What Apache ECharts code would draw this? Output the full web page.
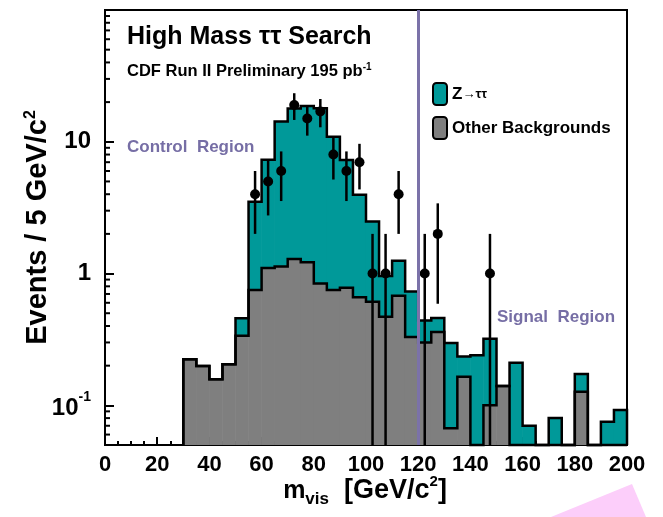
<!DOCTYPE html>
<html><head><meta charset="utf-8">
<script src="https://cdn.jsdelivr.net/npm/echarts@6/dist/echarts.min.js"></script>
<style>html,body{margin:0;padding:0;background:#fff}#c{width:663px;height:517px}</style>
</head><body><div id="c"></div>
<script>
// ---- data ----
const binLow = [30,35,40,45,50,55,60,65,70,75,80,85,90,95,100,105,110,115,120,125,130,135,140,145,150,155,160,165,170,175,180,185,190,195];
const binWidth = 5;
const otherBkg = [0.224,0.199,0.158,0.205,0.338,0.75,1.10,1.13,1.29,1.22,
                  0.84,0.75,0.78,0.66,0.61,0.47,0.68,0.33,0.30,0.36,
                  0.067,0.165,0,0.10,0.14,0,0,0,0,0,
                  0.127,0,0,0];
const zTauTau  = [0,0,0,0,0.12,2.75,6.2,13.1,16.6,17.5,
                  17.1,10.15,6.5,3.3,1.87,0.49,0.57,0.40,0.14,0.10,
                  0.23,0.07,0.24,0.22,0,0.21,0.07,0,0.08,0,
                  0.046,0,0.075,0.092];
const dataMass   = [57.5,62.5,67.5,72.5,77.5,82.5,87.5,92.5,97.5,102.5,107.5,112.5,122.5,127.5,147.5];
const dataCounts = [4,5,6,19,15,17,8,6,7,1,1,4,1,2,1];
const dataErr    = [2,2.24,2.45,4.36,3.87,4.12,2.83,2.45,2.65,1,1,2,1,1.41,1];
const xTickInterval = 20;
const yMin = 0.05, yMax = 100;
const yMinorTicks = [0.06,0.07,0.08,0.09,0.2,0.3,0.4,0.5,0.6,0.7,0.8,0.9,2,3,4,5,6,7,8,9,20,30,40,50,60,70,80,90];
const signalCut = 120;

const FONT = '"Liberation Sans", Arial, sans-serif';
const TEAL = '#009999', GRAY = '#7f7f7f', PURPLE = '#7b72a9';

const totals = otherBkg.map((v,i)=>v + zTauTau[i]);
const clampY = v => Math.max(v, yMin);

const grayData = binLow.map((x,i)=>[x, x+binWidth, yMin, clampY(otherBkg[i])]);
const tealData = binLow.map((x,i)=>[x, x+binWidth, clampY(otherBkg[i]), clampY(totals[i])]);

function rectRender(color){
  return function(params, api){
    const lo = api.value(2), hi = api.value(3);
    if (!(hi > lo)) return;
    const p0 = api.coord([api.value(0), hi]);
    const p1 = api.coord([api.value(1), lo]);
    return {type:'rect', shape:{x:p0[0]-0.3, y:p0[1], width:p1[0]-p0[0]+0.6, height:p1[1]-p0[1]},
            style:{fill:color}};
  };
}
function stepPoints(api, arr){
  const pts = [api.coord([binLow[0], yMin])];
  arr.forEach((v,i)=>{
    const y = clampY(v);
    pts.push(api.coord([binLow[i], y]));
    pts.push(api.coord([binLow[i]+binWidth, y]));
  });
  pts.push(api.coord([binLow[binLow.length-1]+binWidth, yMin]));
  return pts;
}

const chart = echarts.init(document.getElementById('c'), null, {renderer:'canvas'});
chart.setOption({
  animation:false,
  backgroundColor:'#fff',
  grid:{left:105, right:36, top:10, bottom:72, show:true, borderColor:'#000', borderWidth:2, backgroundColor:'transparent'},
  legend:{
    data:['Z→ττ','Other Backgrounds'], orient:'vertical', left:432, top:82, padding:0,
    itemWidth:14, itemHeight:22, itemGap:10, icon:'roundRect', selectedMode:false,
    itemStyle:{borderColor:'#000', borderWidth:2},
    textStyle:{fontFamily:FONT, fontWeight:'bold', fontSize:17, color:'#000',
      rich:{z:{fontFamily:FONT, fontWeight:'bold', fontSize:17, color:'#000'},
            a:{fontFamily:FONT, fontWeight:'bold', fontSize:13, color:'#000'}}},
    formatter: n => n === 'Z→ττ' ? '{z|Z}{a|→ττ}' : n
  },
  xAxis:{
    type:'value', min:0, max:200, interval:xTickInterval,
    axisLine:{lineStyle:{color:'#000', width:2}},
    axisTick:{inside:true, length:8, lineStyle:{color:'#000', width:2}},
    minorTick:{show:true, splitNumber:4, length:4, lineStyle:{color:'#000', width:2}},
    splitLine:{show:false},
    axisLabel:{fontFamily:FONT, fontWeight:'bold', fontSize:22, color:'#000', margin:9},
    name:'{m|m}{sub|vis}{t|  [GeV/c}{sup|2}{t|]}', nameLocation:'middle', nameGap:29, nameMoveOverlap:false,
    nameTextStyle:{fontFamily:FONT, fontWeight:'bold', color:'#000', lineHeight:34, padding:[0,0,0,-2],
      rich:{m:{fontFamily:FONT, fontWeight:'bold', fontSize:25, lineHeight:34, verticalAlign:'middle'},
            t:{fontFamily:FONT, fontWeight:'bold', fontSize:27, lineHeight:34, verticalAlign:'middle'},
            sub:{fontFamily:FONT, fontWeight:'bold', fontSize:17, lineHeight:15, verticalAlign:'bottom'},
            sup:{fontFamily:FONT, fontWeight:'bold', fontSize:15, lineHeight:15, verticalAlign:'top'}}}
  },
  yAxis:{
    type:'log', logBase:10, min:yMin, max:yMax,
    axisLine:{lineStyle:{color:'#000', width:2}},
    axisTick:{inside:true, length:9, lineStyle:{color:'#000', width:2}},
    splitLine:{show:false},
    axisLabel:{fontFamily:FONT, fontWeight:'bold', fontSize:24, color:'#000', margin:14,
      showMinLabel:true, showMaxLabel:true,
      rich:{b:{fontFamily:FONT, fontWeight:'bold', fontSize:24, lineHeight:30, verticalAlign:'bottom'},
            s:{fontFamily:FONT, fontWeight:'bold', fontSize:14, lineHeight:14, verticalAlign:'top'}},
      formatter: v => {
        const l = Math.log10(v), r = Math.round(l);
        if (Math.abs(l-r) > 1e-6 || r >= 2) return '';
        if (r < 0) return '{b|10}{s|' + r + '}';
        return String(Math.round(v));
      }},
    name:'{a|Events / 5 GeV/c}{s|2}', nameLocation:'middle', nameGap:52, nameRotate:90, nameMoveOverlap:false,
    nameTextStyle:{fontFamily:FONT, fontWeight:'bold', color:'#000', lineHeight:30,
      rich:{a:{fontFamily:FONT, fontWeight:'bold', fontSize:29, lineHeight:30, verticalAlign:'middle'},
            s:{fontFamily:FONT, fontWeight:'bold', fontSize:16, lineHeight:16, verticalAlign:'top'}}}
  },
  graphic:[
    {type:'text', x:127, y:37, style:{text:'High Mass ττ Search', font:'bold 25px ' + FONT, fill:'#000', verticalAlign:'middle'}},
    {type:'text', x:127, y:71, style:{text:'{a|CDF Run II Preliminary 195 pb}{s|-1}', verticalAlign:'middle',
      rich:{a:{font:'bold 16.5px ' + FONT, fill:'#000', lineHeight:18, verticalAlign:'middle'},
            s:{font:'bold 10px ' + FONT, fill:'#000', lineHeight:10, verticalAlign:'top'}}}},
    {type:'text', x:127, y:147, style:{text:'Control  Region', font:'bold 17px ' + FONT, fill:'#766ea5', verticalAlign:'middle'}},
    {type:'text', x:497, y:317, style:{text:'Signal  Region', font:'bold 17px ' + FONT, fill:'#766ea5', verticalAlign:'middle'}},
    {type:'polygon', shape:{points:[[551,517],[632,484],[646,517]]}, style:{fill:'#fccefa'}, z:-1}
  ],
  series:[
    {name:'Other Backgrounds', type:'custom', data:grayData, renderItem:rectRender(GRAY),
     itemStyle:{color:GRAY}, encode:{x:[0,1], y:[2,3]}, z:2},
    {name:'Z→ττ', type:'custom', data:tealData, renderItem:rectRender(TEAL),
     itemStyle:{color:TEAL}, encode:{x:[0,1], y:[2,3]}, z:2},
    {name:'outline', type:'custom', data:[[100, 1]], z:3,
     renderItem:(params, api)=>({type:'group', children:[
       {type:'polyline', shape:{points:stepPoints(api, otherBkg)}, style:{stroke:'#000', lineWidth:2.5, fill:null}},
       {type:'polyline', shape:{points:stepPoints(api, totals)}, style:{stroke:'#000', lineWidth:2.5, fill:null}}
     ]})},
    {name:'yMinorTicks', type:'custom', data:yMinorTicks.map(v=>[0,v]), z:4,
     renderItem:(params, api)=>{
       const p = api.coord([0, api.value(1)]);
       return {type:'line', shape:{x1:p[0], y1:p[1], x2:p[0]+5, y2:p[1]}, style:{stroke:'#000', lineWidth:2}};
     }},
    {name:'errors', type:'custom', data:dataMass.map((m,i)=>[m, clampY(dataCounts[i]-dataErr[i]), dataCounts[i]+dataErr[i]]), z:5,
     renderItem:(params, api)=>{
       const a = api.coord([api.value(0), api.value(1)]);
       const b = api.coord([api.value(0), api.value(2)]);
       return {type:'line', shape:{x1:a[0], y1:a[1], x2:b[0], y2:b[1]}, style:{stroke:'#000', lineWidth:2.5}};
     },
     markLine:{silent:true, symbol:'none', label:{show:false}, data:[{xAxis:signalCut}],
       lineStyle:{color:PURPLE, width:3, type:'solid', opacity:1}, z:7}},
    {name:'Data', type:'scatter', data:dataMass.map((m,i)=>[m, dataCounts[i]]), symbol:'circle', symbolSize:10,
     itemStyle:{color:'#000', opacity:1}, z:6}
  ]
});
</script></body></html>
